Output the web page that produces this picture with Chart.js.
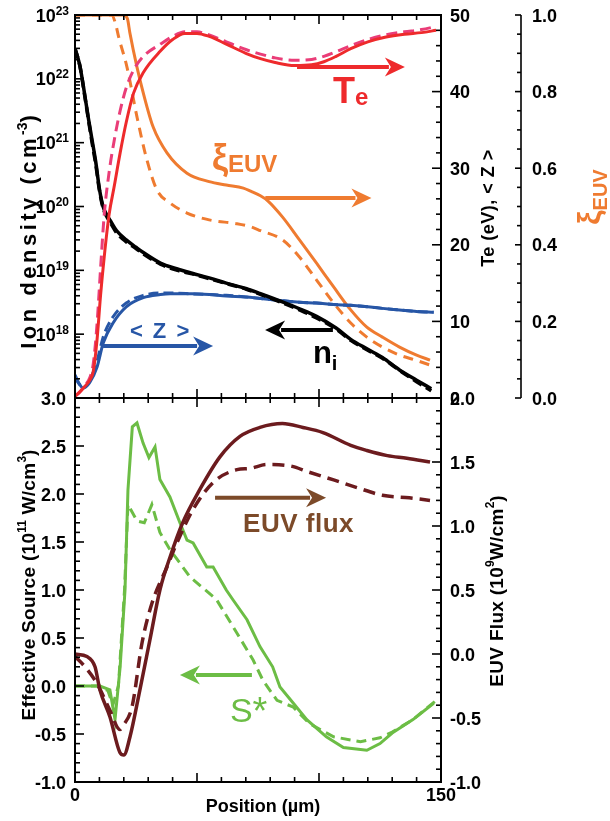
<!DOCTYPE html>
<html>
<head>
<meta charset="utf-8">
<script src="https://cdn.jsdelivr.net/npm/chart.js@4.4.1/dist/chart.umd.min.js"></script>
<style>
  html, body { margin: 0; padding: 0; background: #fff; }
  #wrap { position: relative; width: 610px; height: 821px; }
  canvas { position: absolute; left: 0; }
  #topChart { top: 0; }
  #bottomChart { top: 390px; }
</style>
</head>
<body>
<div id="wrap">
  <canvas id="topChart" width="610" height="420"></canvas>
  <canvas id="bottomChart" width="610" height="431"></canvas>
</div>
<script>
// ---- top panel: ion density (log), Te, <Z>, xi_EUV ----
const niPos      = [0, 2, 4, 5.5, 7, 8.5, 10, 11.5, 13, 14.5, 17, 21, 25, 28, 35, 42, 48, 55, 62, 70, 76, 85, 92, 99, 107, 113, 120, 126, 133, 140, 146];
const niSolid    = [3.0e22, 1.6e22, 5.6e21, 2.4e21, 1.1e21, 5.0e20, 1.9e20, 1.0e20, 7.4e19, 6.0e19, 4.2e19, 3.0e19, 2.3e19, 1.9e19, 1.3e19, 1.05e19, 9.0e18, 7.6e18, 6.3e18, 5.2e18, 4.3e18, 3.2e18, 2.5e18, 1.9e18, 1.25e18, 8.3e17, 5.8e17, 4.3e17, 2.75e17, 1.9e17, 1.4e17];
const niDashed   = [3.0e22, 1.6e22, 5.4e21, 2.3e21, 1.0e21, 4.6e20, 1.8e20, 9.5e19, 7.0e19, 5.6e19, 3.9e19, 2.8e19, 2.2e19, 1.8e19, 1.25e19, 1.0e19, 8.8e18, 7.4e18, 6.2e18, 5.1e18, 4.2e18, 3.1e18, 2.4e18, 1.8e18, 1.2e18, 8.0e17, 5.6e17, 4.2e17, 2.7e17, 1.8e17, 1.3e17];

const tePos      = [0, 2, 4, 6, 7.5, 9, 10.5, 12, 14, 16, 18.5, 21, 24, 28, 35, 40, 45, 50, 55, 62, 70, 76, 82, 90, 97, 102, 107, 113, 120, 127, 135, 142, 148];
const teSolid    = [0.2, 0.8, 1.5, 2.3, 3.5, 7.5, 13.5, 18.5, 24, 27.5, 32, 36, 39.8, 42.5, 45.3, 46.8, 47.6, 47.6, 47.2, 46.2, 45.0, 44.3, 43.8, 43.4, 43.5, 43.9, 44.6, 45.6, 46.5, 47.1, 47.5, 47.7, 48.0];
const teDashed   = [0.2, 0.8, 1.6, 2.6, 4.5, 9.5, 17, 24, 29.5, 33.5, 37.5, 40.5, 42.8, 44.6, 46.2, 47.2, 47.8, 47.8, 47.4, 46.5, 45.5, 44.9, 44.4, 44.1, 44.2, 44.6, 45.2, 46.0, 46.8, 47.4, 47.8, 48.1, 48.5];

const zPos       = [0, 1.5, 3.3, 6, 9, 11.6, 15.6, 21, 28, 35, 39, 48, 55, 62, 70, 76, 85, 92, 99, 106, 113, 120, 126, 133, 140, 147];
const zSolid     = [3.0, 2.0, 1.3, 2.0, 4.0, 7.2, 9.8, 11.9, 13.1, 13.5, 13.6, 13.6, 13.5, 13.3, 13.2, 13.0, 12.7, 12.5, 12.4, 12.2, 12.1, 11.9, 11.7, 11.5, 11.3, 11.2];
const zDashed    = [2.8, 1.9, 1.4, 2.3, 4.8, 8.0, 10.6, 12.4, 13.4, 13.7, 13.7, 13.6, 13.5, 13.4, 13.2, 13.0, 12.7, 12.5, 12.4, 12.2, 12.1, 11.9, 11.7, 11.5, 11.3, 11.2];

const xiSolidPos = [0, 10, 20, 21.5, 22.5, 25.4, 28, 32, 37.7, 45.9, 55, 62, 69, 72, 76, 79, 85, 92, 99, 106, 113, 119.6, 126, 133, 140, 145.5];
const xiSolid    = [1, 1, 1, 0.99, 0.953, 0.864, 0.796, 0.708, 0.640, 0.587, 0.565, 0.556, 0.548, 0.540, 0.528, 0.515, 0.473, 0.413, 0.352, 0.290, 0.230, 0.185, 0.159, 0.133, 0.112, 0.099];
const xiDashPos  = [0, 10, 15, 16.5, 18, 21.3, 25.4, 29.5, 33.6, 39, 45.9, 55, 66.4, 72, 76, 85, 92, 99, 106, 113, 119.6, 126, 133, 140, 145.5];
const xiDashed   = [1, 1, 1, 0.98, 0.94, 0.864, 0.734, 0.621, 0.543, 0.509, 0.483, 0.465, 0.455, 0.447, 0.437, 0.413, 0.368, 0.308, 0.248, 0.196, 0.159, 0.133, 0.112, 0.098, 0.086];

// ---- bottom panel: effective source S* and EUV flux ----
const sSolidPos  = [0, 10.2, 14.3, 16.4, 18.5, 20.5, 21.7, 23.5, 25.4, 27.9, 30.3, 32.8, 34.8, 38.9, 43, 45.9, 48.4, 54, 56.6, 62, 64.8, 70.5, 75.8, 81, 84, 89.5, 95, 103, 110, 119.6, 125, 130, 138.5, 147];
const sSolid     = [0, 0, -0.04, -0.35, 0.2, 1.0, 2.04, 2.70, 2.74, 2.53, 2.38, 2.49, 2.15, 1.97, 1.70, 1.52, 1.49, 1.24, 1.24, 1.0, 0.896, 0.69, 0.41, 0.20, -0.01, -0.18, -0.35, -0.53, -0.64, -0.67, -0.60, -0.49, -0.35, -0.18];
const sDashPos   = [0, 10.2, 13.5, 15.5, 17.8, 20.3, 21.7, 25.4, 28.4, 31.5, 34.8, 38.9, 43, 47, 58, 66.4, 73, 77, 82.8, 89.5, 96, 106, 117, 125, 130, 138.5, 148];
const sDashed    = [0, 0, -0.05, -0.2, 0.0, 1.0, 1.89, 1.72, 1.70, 1.89, 1.60, 1.42, 1.28, 1.14, 0.90, 0.55, 0.27, 0.06, -0.15, -0.22, -0.39, -0.53, -0.58, -0.54, -0.48, -0.35, -0.15];

const fSolidPos  = [0, 4.9, 8.2, 10.2, 14.3, 18.4, 20, 22.5, 26.6, 30.7, 34.8, 39, 44, 51, 59.4, 67.6, 75.8, 85, 93.4, 101.6, 113, 119.6, 128, 136, 145.5];
const fSolid     = [0.0, -0.02, -0.10, -0.28, -0.49, -0.77, -0.79, -0.65, -0.28, 0.11, 0.50, 0.76, 1.02, 1.28, 1.54, 1.70, 1.77, 1.80, 1.77, 1.73, 1.63, 1.59, 1.55, 1.53, 1.50];
const fDashPos   = [0, 4.1, 9, 14.3, 18.4, 19.7, 23.4, 27.5, 31.6, 37.7, 41.8, 48.4, 56.6, 66.4, 71.7, 78.6, 88, 96, 106, 115.6, 126, 137, 145.5];
const fDashed    = [-0.02, -0.10, -0.23, -0.44, -0.59, -0.56, -0.41, 0.09, 0.40, 0.68, 0.87, 1.13, 1.34, 1.44, 1.45, 1.48, 1.47, 1.42, 1.36, 1.30, 1.24, 1.22, 1.20];

// tick labels
const densityExps  = [18, 19, 20, 21, 22, 23];
const teLabels     = [0, 10, 20, 30, 40, 50];
const xiLabels     = [0, 0.2, 0.4, 0.6, 0.8, 1.0];
const sourceLabels = [-1, -0.5, 0, 0.5, 1, 1.5, 2, 2.5, 3];
const fluxLabels   = [-1, -0.5, 0, 0.5, 1, 1.5, 2];
const posLabels    = [0, 150];

const FONT = '"Liberation Sans", Arial, sans-serif';
const RED = '#ee2a2c', PINK = '#ea3d78', ORANGE = '#ef7b30', BLUE = '#2756a6',
      GREEN = '#6cbd45', MAROON = '#6c1b1e', BROWN = '#7c4a29';

function pts(xs, ys) { return xs.map((x, i) => ({ x: x, y: ys[i] })); }

function line(data, axis, color, width, dash, smooth) {
  return {
    data: data, yAxisID: axis, borderColor: color, borderWidth: width,
    borderDash: dash || [], pointRadius: 0, fill: false,
    cubicInterpolationMode: smooth === false ? 'default' : 'monotone', tension: 0
  };
}

function setFont(ctx, size, weight) { ctx.font = (weight || 'bold') + ' ' + size + 'px ' + FONT; }

// text made of runs (super/subscripts via dy), aligned on x
function rich(ctx, runs, x, y, align) {
  let w = 0;
  runs.forEach(r => {
    setFont(ctx, r.size, r.weight); ctx.letterSpacing = (r.ls || 0) + 'px';
    r.w = ctx.measureText(r.t).width; w += r.w;
  });
  let cx = align === 'right' ? x - w : align === 'center' ? x - w / 2 : x;
  runs.forEach(r => {
    setFont(ctx, r.size, r.weight); ctx.letterSpacing = (r.ls || 0) + 'px';
    ctx.fillText(r.t, cx, y + (r.dy || 0)); cx += r.w;
  });
  ctx.letterSpacing = '0px';
}

// rotated axis title, reading bottom to top
function vTitle(ctx, runs, xBase, yMid, color) {
  ctx.save();
  ctx.fillStyle = color || '#000';
  ctx.translate(xBase, yMid);
  ctx.rotate(-Math.PI / 2);
  rich(ctx, runs, 0, 0, 'center');
  ctx.restore();
}

function hTick(ctx, x, y, len) { ctx.beginPath(); ctx.moveTo(x, y); ctx.lineTo(x, y + len); ctx.stroke(); }
function vTick(ctx, x, y, len) { ctx.beginPath(); ctx.moveTo(x, y); ctx.lineTo(x + len, y); ctx.stroke(); }

function arrow(ctx, chart, a) {
  const sx = chart.scales.x, sy = chart.scales[a.axis];
  const x1 = sx.getPixelForValue(a.from), x2 = sx.getPixelForValue(a.to), y = sy.getPixelForValue(a.y);
  const dir = x2 > x1 ? 1 : -1, head = 20, half = 9.5;
  ctx.save();
  ctx.strokeStyle = a.color; ctx.fillStyle = a.color; ctx.lineWidth = 4;
  ctx.beginPath(); ctx.moveTo(x1, y); ctx.lineTo(x2 - dir * head * 0.8, y); ctx.stroke();
  ctx.beginPath();
  ctx.moveTo(x2, y);
  ctx.lineTo(x2 - dir * head, y - half);
  ctx.lineTo(x2 - dir * head * 0.7, y);
  ctx.lineTo(x2 - dir * head, y + half);
  ctx.closePath(); ctx.fill();
  ctx.restore();
}

function note(ctx, chart, n) {
  const x = chart.scales.x.getPixelForValue(n.x), y = chart.scales[n.axis].getPixelForValue(n.y);
  ctx.save(); ctx.fillStyle = n.color; rich(ctx, n.runs, x, y, 'left'); ctx.restore();
}

// annotations in data units
const topArrows = [
  { axis: 'yTe', from: 91, to: 135.2, y: 43.2, color: RED },
  { axis: 'yXi', from: 78, to: 121.5, y: 0.522, color: ORANGE },
  { axis: 'yTe', from: 11.5, to: 56.6, y: 6.8, color: BLUE },
  { axis: 'yNi', from: 105.7, to: 77.9, y: 1.16e18, color: '#000' }
];
const topNotes = [
  { axis: 'yTe', x: 105.7, y: 38.5, color: RED, runs: [{ t: 'T', size: 36 }, { t: 'e', size: 24, dy: 2 }] },
  { axis: 'yXi', x: 56.1, y: 0.59, color: ORANGE, runs: [{ t: 'ξ', size: 36, dy: -2 }, { t: 'EUV', size: 24 }] },
  { axis: 'yTe', x: 22.5, y: 7.8, color: BLUE, runs: [{ t: '< Z >', size: 22, ls: 2 }] },
  { axis: 'yNi', x: 97.5, y: 3.5e17, color: '#000', runs: [{ t: 'n', size: 31 }, { t: 'i', size: 20, dy: 7 }] }
];
const bottomArrows = [
  { axis: 'yFlux', from: 57.4, to: 102.9, y: 1.22, color: BROWN },
  { axis: 'ySrc', from: 72.5, to: 43, y: 0.115, color: GREEN }
];
const bottomNotes = [
  { axis: 'yFlux', x: 68.9, y: 0.953, color: BROWN, runs: [{ t: 'EUV flux', size: 26, ls: 0.5 }] },
  { axis: 'ySrc', x: 63.5, y: -0.375, color: GREEN, runs: [{ t: 'S', size: 34, weight: 'normal' }, { t: '*', size: 38, weight: 'normal', dy: 2 }] }
];

function frameAndX(ctx, chart) {
  const a = chart.chartArea, sx = chart.scales.x;
  ctx.strokeStyle = '#000'; ctx.fillStyle = '#000';
  ctx.lineWidth = 2;
  ctx.strokeRect(a.left, a.top, a.right - a.left, a.bottom - a.top);
  ctx.lineWidth = 1.6;
  for (let v = 0; v <= 150; v += 10) {
    const len = v % 50 === 0 ? 9 : 5, px = sx.getPixelForValue(v);
    hTick(ctx, px, a.top, len);
    hTick(ctx, px, a.bottom, -len);
  }
}

const topDecor = {
  id: 'topDecor',
  afterDraw(chart) {
    const ctx = chart.ctx, a = chart.chartArea, s = chart.scales;
    ctx.save();
    ctx.textAlign = 'left'; ctx.textBaseline = 'alphabetic';
    frameAndX(ctx, chart);

    // log ticks on the left edge
    for (let d = 17; d <= 22; d++) {
      for (let m = 1; m <= 9; m++) vTick(ctx, a.left, s.yNi.getPixelForValue(m * Math.pow(10, d)), m === 1 ? 9 : 5);
    }
    // Te ticks on the right edge
    for (let v = 0; v <= 50; v += 2) vTick(ctx, a.right, s.yTe.getPixelForValue(v), v % 10 === 0 ? -9 : -5);

    // separate xi axis
    const xx = a.right + 80;
    ctx.beginPath(); ctx.moveTo(xx, a.top); ctx.lineTo(xx, a.bottom); ctx.stroke();
    for (let i = 0; i <= 20; i++) vTick(ctx, xx, s.yXi.getPixelForValue(i * 0.05), i % 4 === 0 ? -6 : -4);

    densityExps.forEach(e => {
      const y = s.yNi.getPixelForValue(Math.pow(10, e)) + 6.5;
      rich(ctx, [{ t: '10', size: 18 }, { t: String(e), size: 12, dy: -7 }], 69, y, 'right');
    });
    teLabels.forEach(v => rich(ctx, [{ t: String(v), size: 18 }], a.right + 9, s.yTe.getPixelForValue(v) + 6.5, 'left'));
    xiLabels.forEach(v => rich(ctx, [{ t: v.toFixed(1), size: 18 }], xx + 11, s.yXi.getPixelForValue(v) + 6.5, 'left'));

    vTitle(ctx, [{ t: 'Ion density (cm', size: 22, ls: 3.5 }, { t: '-3', size: 14, dy: -9 }, { t: ')', size: 22 }], 36, 232);
    vTitle(ctx, [{ t: 'Te (eV), < Z >', size: 18, ls: 0.5 }], 494, 208);
    vTitle(ctx, [{ t: 'ξ', size: 32 }, { t: 'EUV', size: 20, dy: 7 }], 600, 197, ORANGE);

    topArrows.forEach(ar => arrow(ctx, chart, ar));
    topNotes.forEach(n => note(ctx, chart, n));
    ctx.restore();
  }
};

const bottomDecor = {
  id: 'bottomDecor',
  afterDraw(chart) {
    const ctx = chart.ctx, a = chart.chartArea, s = chart.scales;
    ctx.save();
    ctx.textAlign = 'left'; ctx.textBaseline = 'alphabetic';
    frameAndX(ctx, chart);

    for (let i = -10; i <= 30; i++) vTick(ctx, a.left, s.ySrc.getPixelForValue(i / 10), i % 5 === 0 ? 9 : 5);
    for (let i = -10; i <= 20; i++) vTick(ctx, a.right, s.yFlux.getPixelForValue(i / 10), i % 5 === 0 ? -9 : -5);

    sourceLabels.forEach(v => rich(ctx, [{ t: v.toFixed(1), size: 18 }], 66, s.ySrc.getPixelForValue(v) + 6.5, 'right'));
    fluxLabels.forEach(v => rich(ctx, [{ t: v.toFixed(1), size: 18 }], a.right + 9, s.yFlux.getPixelForValue(v) + 6.5, 'left'));
    posLabels.forEach(v => rich(ctx, [{ t: String(v), size: 18 }], s.x.getPixelForValue(v), a.bottom + 19, 'center'));

    const midY = (a.top + a.bottom) / 2;
    rich(ctx, [{ t: 'Position (µm)', size: 18 }], 263, a.bottom + 30, 'center');
    vTitle(ctx, [{ t: 'Effective Source (10', size: 19, ls: 0.3 }, { t: '11', size: 12, dy: -9 }, { t: ' W/cm', size: 19, ls: 0.3 }, { t: '3', size: 12, dy: -9 }, { t: ')', size: 19 }], 35, midY - 5);
    vTitle(ctx, [{ t: 'EUV Flux (10', size: 19, ls: 0.3 }, { t: '9', size: 12, dy: -9 }, { t: 'W/cm', size: 19, ls: 0.3 }, { t: '2', size: 12, dy: -9 }, { t: ')', size: 19 }], 503, midY + 1);

    bottomArrows.forEach(ar => arrow(ctx, chart, ar));
    bottomNotes.forEach(n => note(ctx, chart, n));
    ctx.restore();
  }
};

const xScale = { type: 'linear', min: 0, max: 150, display: false };

new Chart(document.getElementById('topChart'), {
  type: 'line',
  data: {
    datasets: [
      line(pts(tePos, teSolid), 'yTe', RED, 3),
      line(pts(tePos, teDashed), 'yTe', PINK, 3, [11, 6]),
      line(pts(niPos, niSolid), 'yNi', '#000', 3.5),
      line(pts(niPos, niDashed), 'yNi', '#000', 3.5, [10, 5]),
      line(pts(zPos, zSolid), 'yTe', BLUE, 3),
      line(pts(zPos, zDashed), 'yTe', BLUE, 3, [10, 5]),
      line(pts(xiSolidPos, xiSolid), 'yXi', ORANGE, 3),
      line(pts(xiDashPos, xiDashed), 'yXi', ORANGE, 3, [10, 7])
    ]
  },
  options: {
    responsive: false,
    animation: false,
    devicePixelRatio: 1,
    layout: { padding: { left: 75, right: 169, top: 15, bottom: 22 } },
    plugins: { legend: { display: false }, tooltip: { enabled: false } },
    scales: {
      x: xScale,
      yNi: { type: 'logarithmic', min: 1e17, max: 1e23, display: false },
      yTe: { type: 'linear', min: 0, max: 50, display: false },
      yXi: { type: 'linear', min: 0, max: 1, display: false }
    }
  },
  plugins: [topDecor]
});

new Chart(document.getElementById('bottomChart'), {
  type: 'line',
  data: {
    datasets: [
      line(pts(fSolidPos, fSolid), 'yFlux', MAROON, 3.5),
      line(pts(fDashPos, fDashed), 'yFlux', MAROON, 3.5, [12, 7]),
      line(pts(sSolidPos, sSolid), 'ySrc', GREEN, 3, null, false),
      line(pts(sDashPos, sDashed), 'ySrc', GREEN, 3, [10, 6], false)
    ]
  },
  options: {
    responsive: false,
    animation: false,
    devicePixelRatio: 1,
    layout: { padding: { left: 75, right: 169, top: 8, bottom: 39 } },
    plugins: { legend: { display: false }, tooltip: { enabled: false } },
    scales: {
      x: xScale,
      ySrc: { type: 'linear', min: -1, max: 3, display: false },
      yFlux: { type: 'linear', min: -1, max: 2, display: false }
    }
  },
  plugins: [bottomDecor]
});
</script>
</body>
</html>
